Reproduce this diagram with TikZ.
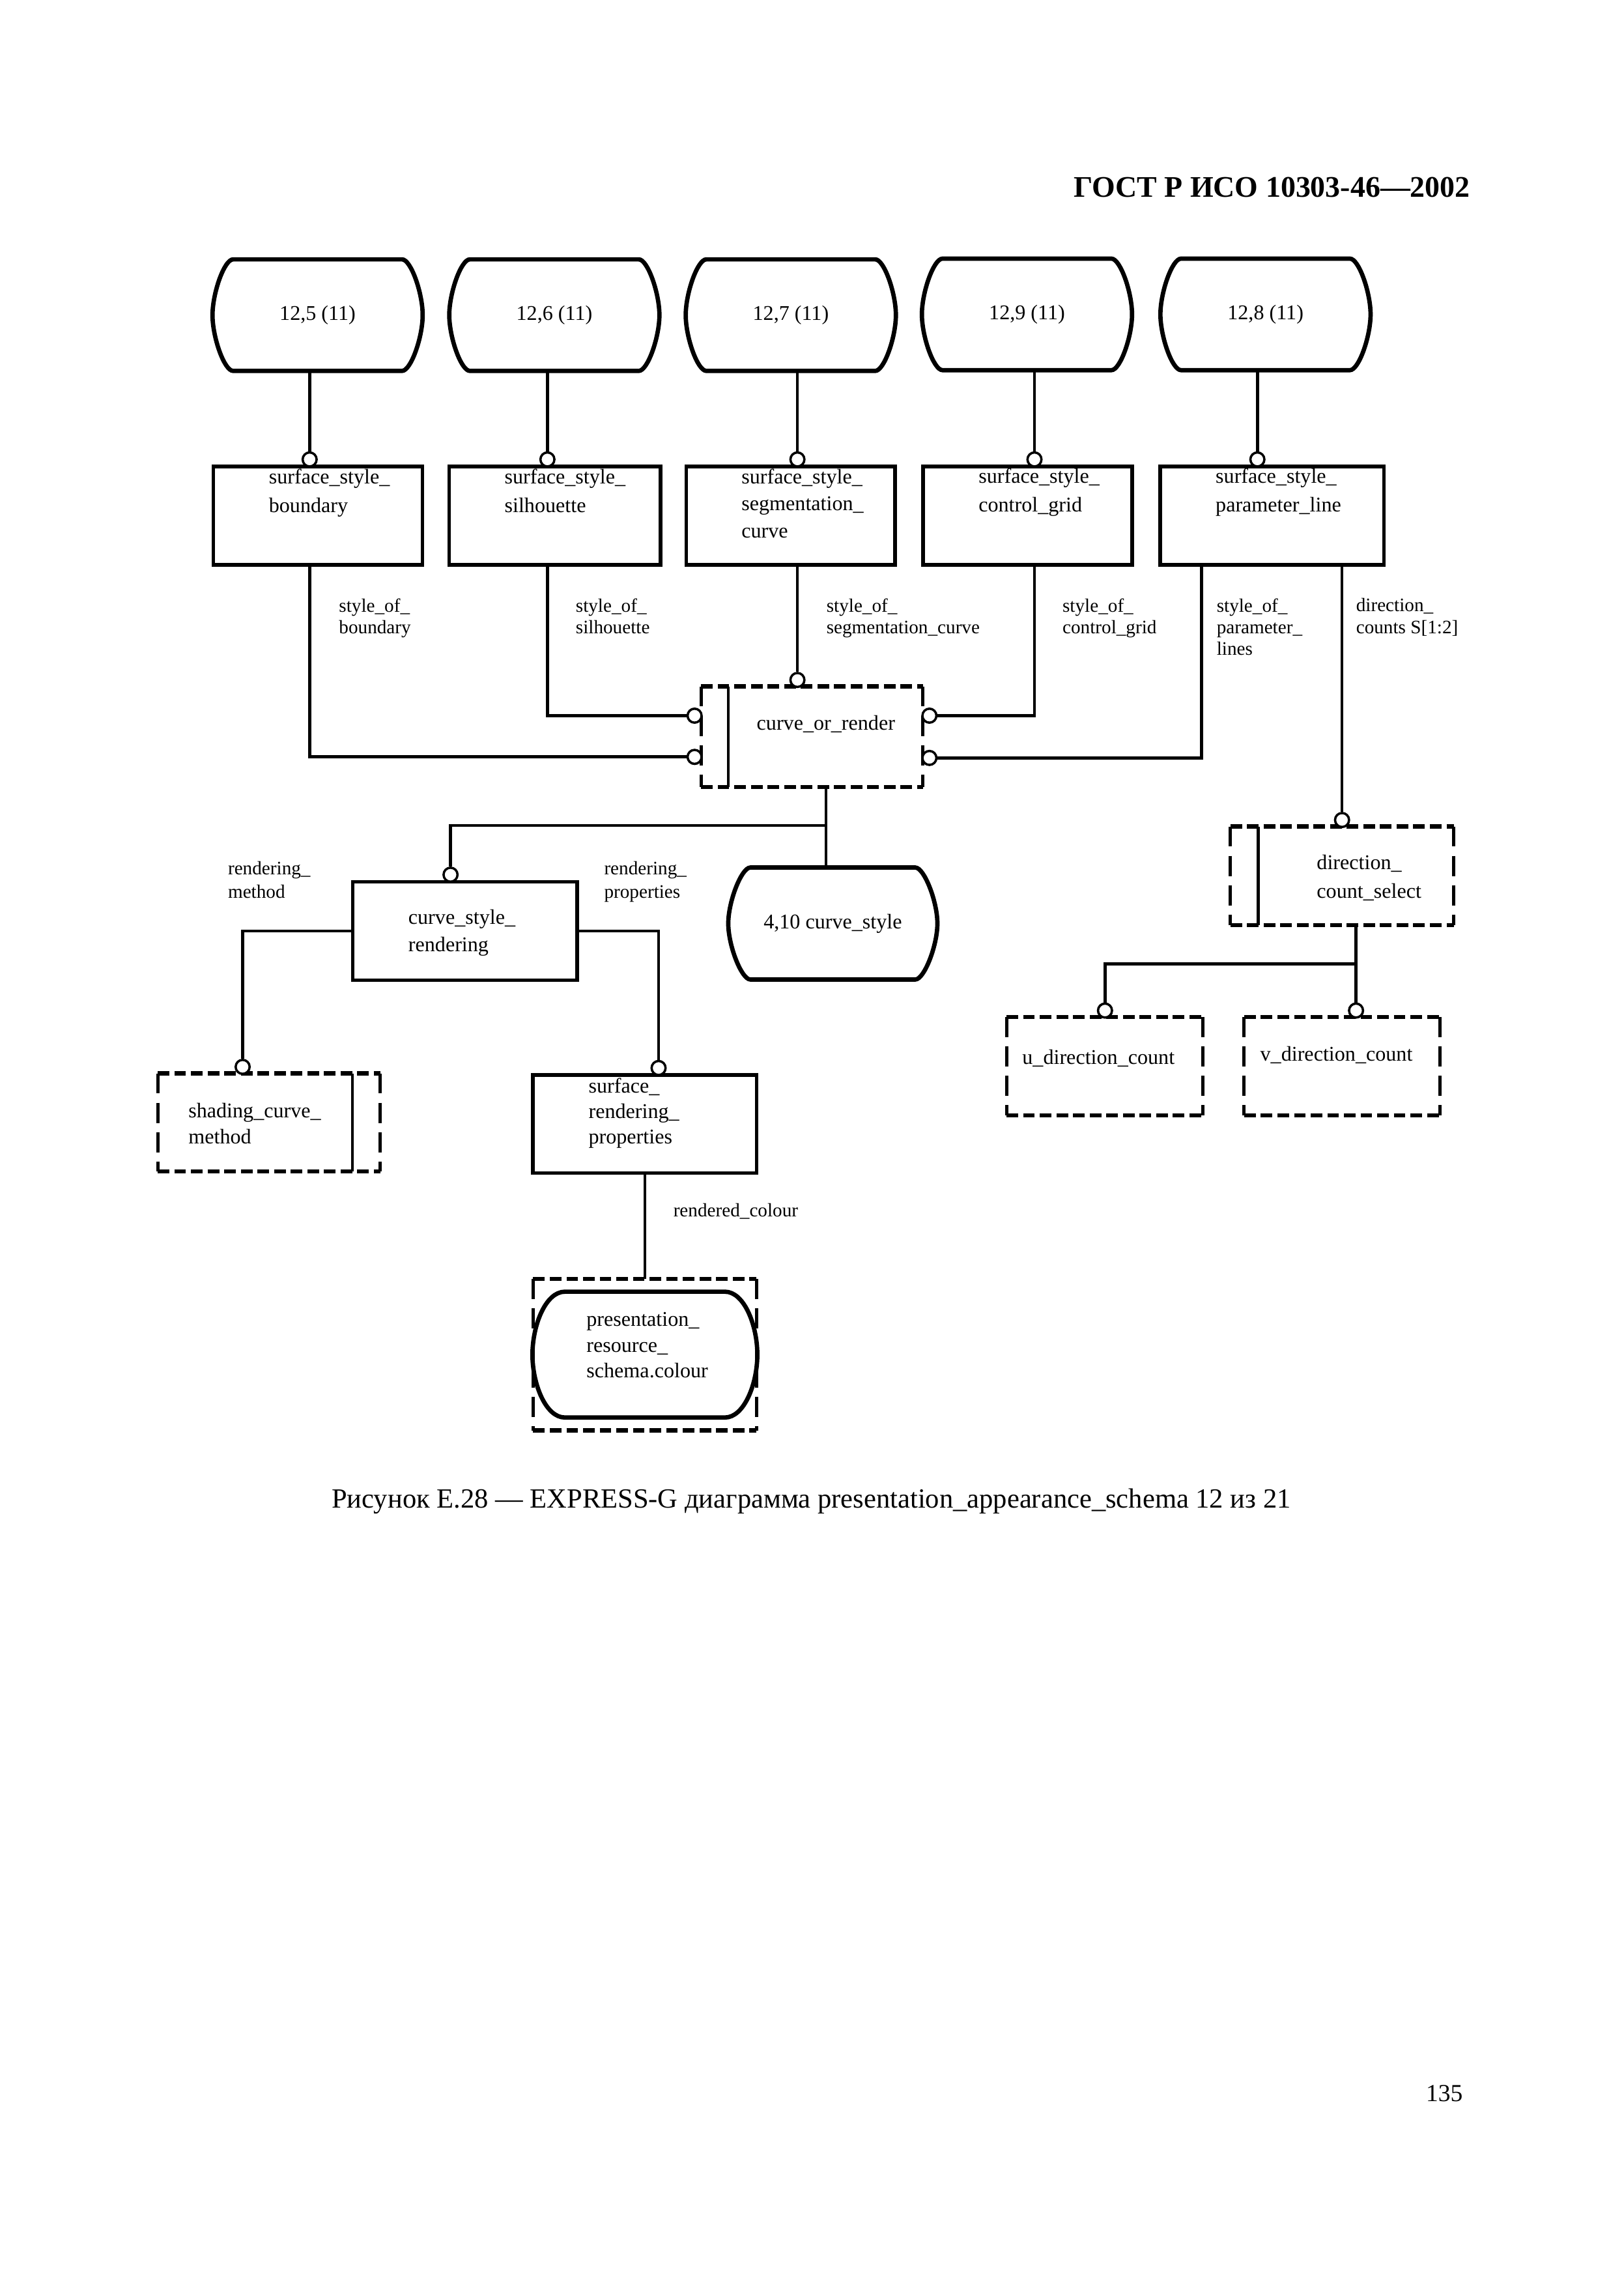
\documentclass[tikz,border=0pt]{standalone}
\usepackage{fontspec}
\setmainfont{Liberation Serif}
\usetikzlibrary{shapes.misc}
\newcommand{\dpx}{0.19039mm}
\newcommand{\efont}{\fontsize{7.7}{10.6}\selectfont}
\newcommand{\lfont}{\fontsize{7}{8}\selectfont}
% dashed outline of a type box
\newcommand{\dashedges}[1]{%
  \draw[hdash] (#1.north west) -- (#1.north east) (#1.south west) -- (#1.south east);
  \draw[vdash] (#1.north west) -- (#1.south west) (#1.north east) -- (#1.south east);}
% barrel outline of a page reference: #1 node, #2 corner inset, #3 corner pull, #4 side pull
\newcommand{\barrel}[4]{%
  \draw[refline] ([shift={(#2,0)}]#1.north west) -- ([shift={(-#2,0)}]#1.north east)
    .. controls +(#3,0) and +(0,-#4) .. (#1.east)
    .. controls +(0,#4) and +(#3,0) .. ([shift={(-#2,0)}]#1.south east)
    -- ([shift={(#2,0)}]#1.south west)
    .. controls +(-#3,0) and +(0,#4) .. (#1.west)
    .. controls +(0,-#4) and +(-#3,0) .. ([shift={(#2,0)}]#1.north west) -- cycle;}
\tikzset{
  rel/.style={line width=1.1pt},
  refline/.style={line width=1.6pt},
  entity/.style={draw, line width=1.3pt, inner sep=0pt, minimum width=142*\dpx, minimum height=66.8*\dpx},
  pageref/.style={inner sep=0pt, minimum width=142*\dpx, minimum height=75*\dpx, font=\efont},
  ring/.style={draw, circle, line width=0.85pt, fill=white, inner sep=0pt, minimum size=9.5*\dpx},
  selbox/.style={inner sep=0pt, minimum width=150*\dpx, minimum height=67.5*\dpx},
  hdash/.style={line width=1.5pt, dash pattern=on 1.5mm off 0.65mm},
  vdash/.style={line width=1.2pt, dash pattern=on 2.6mm off 1.2mm},
  etext/.style={anchor=north west, inner sep=0pt, align=left, font=\efont},
  rtext/.style={anchor=north west, inner sep=0pt, align=left, font=\lfont},
}
\begin{document}
\begin{tikzpicture}[x=0.19039mm, y=-0.19039mm]
\fill[white] (0,0) rectangle (1103,1556.5);

% page header
\node[anchor=base east, font=\bfseries\fontsize{11}{13}\selectfont] (hdr) at (1005,134) {ГОСТ Р ИСО 10303-46—2002};

% page references
\node[pageref] (B1) at (215.7,214) {12,5 (11)};
\node[pageref] (B2) at (376.5,214) {12,6 (11)};
\node[pageref] (B3) at (537.1,214) {12,7 (11)};
\node[pageref] (B4) at (697.5,213.5) {12,9 (11)};
\node[pageref] (B5) at (859.5,213.5) {12,8 (11)};
\foreach \b in {B1,B2,B3,B4,B5} {\barrel{\b}{14}{6}{15}}

% entities
\node[entity] (E1) at (216,350.2) {};
\node[entity, minimum width=143.5*\dpx] (E2) at (376.8,350.2) {};
\node[entity] (E3) at (537,350.2) {};
\node[entity] (E4) at (698,350.2) {};
\node[entity, minimum width=152*\dpx] (E5) at (864,350.2) {};
\node[etext] (tE1) at ([shift={(38.5,2.5)}]E1.north west) {surface\_style\_\\boundary};
\node[etext] (tE2) at ([shift={(38.5,2.5)}]E2.north west) {surface\_style\_\\silhouette};
\node[etext, font=\fontsize{7.7}{9.9}\selectfont] (tE3) at ([shift={(38.5,2.5)}]E3.north west) {surface\_style\_\\segmentation\_\\curve};
\node[etext] (tE4) at ([shift={(38.5,2)}]E4.north west) {surface\_style\_\\control\_grid};
\node[etext] (tE5) at ([shift={(38.5,2)}]E5.north west) {surface\_style\_\\parameter\_line};

\node[ring] (c1) at (210.3,312) {};
\node[ring] (c2) at (371.8,312) {};
\node[ring] (c3) at (541.6,312) {};
\node[ring] (c4) at (702.6,312) {};
\node[ring] (c5) at (854,312) {};
\draw[rel] (B1.south -| c1) -- (c1);
\draw[rel] (B2.south -| c2) -- (c2);
\draw[rel] (B3.south -| c3) -- (c3);
\draw[rel] (B4.south -| c4) -- (c4);
\draw[rel] (B5.south -| c5) -- (c5);

% attribute labels
\node[rtext] (l1) at (229.9,406) {style\_of\_\\boundary};
\node[rtext] (l2) at (390.7,406) {style\_of\_\\silhouette};
\node[rtext] (l3) at (561,406) {style\_of\_\\segmentation\_curve};
\node[rtext] (l4) at (721.3,406) {style\_of\_\\control\_grid};
\node[rtext] (l5) at (826,406) {style\_of\_\\parameter\_\\lines};
\node[rtext] (l6) at (920.7,406) {direction\_\\counts S[1:2]};

% select curve_or_render
\node[selbox] (csel) at (551.5,500.25) {};
\dashedges{csel}
\draw[rel] ([shift={(18.5,0)}]csel.north west) -- ([shift={(18.5,0)}]csel.south west);
\node[anchor=base west, inner sep=0pt, font=\efont] (tcsel) at (513.6,495.8) {curve\_or\_render};
\node[ring] (ct) at (541.6,461.75) {};
\node[ring] (cl1) at (471.75,486) {};
\node[ring] (cl2) at (471.75,514) {};
\node[ring] (cr1) at (631.25,486) {};
\node[ring] (cr2) at (631.25,514.7) {};
\draw[rel] (E1.south -| c1) |- (cl2);
\draw[rel] (E2.south -| c2) |- (cl1);
\draw[rel] (E3.south -| c3) -- (ct);
\draw[rel] (E4.south -| c4) |- (cr1);
\draw[rel] ([shift={(-48,0)}]E5.south) |- (cr2);

% curve_style_rendering and 4,10
\node[entity, minimum width=152.3*\dpx] (csr) at (315.85,632.25) {};
\node[etext, font=\fontsize{7.7}{10}\selectfont] (tcsr) at ([shift={(38.5,19.8)}]csr.north west) {curve\_style\_\\rendering};
\node[pageref, minimum width=141.3*\dpx, minimum height=75.3*\dpx] (p410) at (565.65,627.15) {4,10 curve\_style};
\barrel{p410}{15}{6}{15}
\node[ring] (cc) at (306,594) {};
\coordinate (jc) at (561,560.6);
\draw[rel] (csel.south -| jc) -- (jc) -| (cc);
\draw[rel] (jc) -- (p410.north -| jc);
\node[rtext, font=\fontsize{7}{8.5}\selectfont] (l7) at (154.5,584.8) {rendering\_\\method};
\node[rtext, font=\fontsize{7}{8.5}\selectfont] (l8) at (410,584.8) {rendering\_\\properties};

% shading_curve_method
\node[selbox, minimum width=150.5*\dpx, minimum height=65.7*\dpx] (scm) at (182.75,762.15) {};
\dashedges{scm}
\draw[rel] ([shift={(-19,0)}]scm.north east) -- ([shift={(-19,0)}]scm.south east);
\node[etext, font=\fontsize{7.7}{9.6}\selectfont] (tscm) at ([shift={(20.5,19.7)}]scm.north west) {shading\_curve\_\\method};
\node[ring] (cs) at (164.8,724.5) {};
\draw[rel] (csr.west) -| (cs);

% surface_rendering_properties
\node[entity, minimum width=152*\dpx, minimum height=66.5*\dpx] (srp) at (438,763.25) {};
\node[etext, font=\fontsize{7.7}{9.35}\selectfont] (tsrp) at ([shift={(38.6,3)}]srp.north west) {surface\_\\rendering\_\\properties};
\node[ring] (cp) at (447.3,725.25) {};
\draw[rel] (csr.east) -| (cp);
\node[anchor=base west, inner sep=0pt, font=\lfont] (l9) at (457,826.4) {rendered\_colour};

% presentation_resource_schema.colour
\node[selbox, minimum width=151*\dpx, minimum height=102*\dpx] (col) at (438,920) {};
\dashedges{col}
\node[pageref, minimum width=152*\dpx, minimum height=84.7*\dpx] (colref) at (438,919.9) {};
\barrel{colref}{22}{13}{20}
\node[etext, font=\fontsize{7.7}{9.45}\selectfont] (tcol) at (398,891) {presentation\_\\resource\_\\schema.colour};
\draw[rel] (srp.south) -- (col.north);

% direction_count_select
\node[selbox, minimum width=151*\dpx, minimum height=66.4*\dpx] (dcs) at (911.5,594.8) {};
\dashedges{dcs}
\draw[rel] ([shift={(19,0)}]dcs.north west) -- ([shift={(19,0)}]dcs.south west);
\node[etext, font=\fontsize{7.7}{10.7}\selectfont] (tdcs) at (894,580) {direction\_\\count\_select};
\node[ring] (cd) at (911.5,556.85) {};
\draw[rel] (E5.south -| cd) -- (cd);

\node[selbox, minimum width=132.7*\dpx, minimum height=66*\dpx] (udc) at (750.35,724) {};
\dashedges{udc}
\node[anchor=base west, inner sep=0pt, font=\efont] (tudc) at (694,722.6) {u\_direction\_count};
\node[selbox, minimum width=132.4*\dpx, minimum height=66*\dpx] (vdc) at (911.6,724) {};
\dashedges{vdc}
\node[anchor=base west, inner sep=0pt, font=\efont] (tvdc) at (855.6,720.4) {v\_direction\_count};
\node[ring] (cu) at (750.5,686.25) {};
\node[ring] (cv) at (921,686.25) {};
\coordinate (jd) at (921,654.5);
\draw[rel] (dcs.south -| jd) -- (jd) -| (cu);
\draw[rel] (jd) -- (cv);

% caption and page number
\node[anchor=base, font=\fontsize{10.2}{12}\selectfont] (cap) at (551,1024) {Рисунок Е.28 — EXPRESS-G диаграмма presentation\_appearance\_schema 12 из 21};
\node[anchor=base east, font=\fontsize{9}{11}\selectfont] (pg) at (1000,1427) {135};
\end{tikzpicture}
\end{document}
